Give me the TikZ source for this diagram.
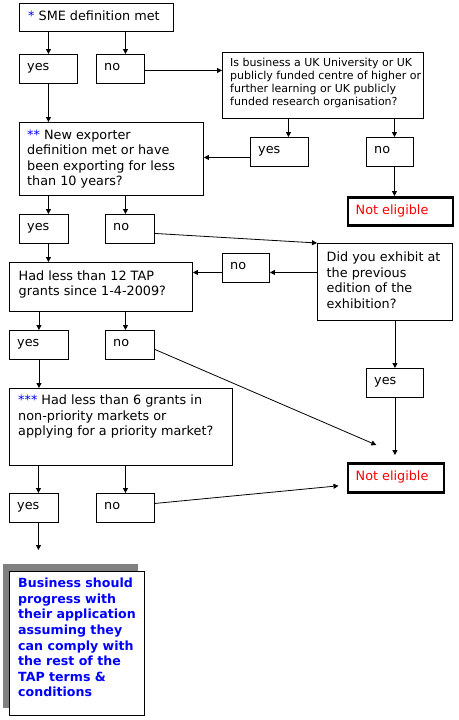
\documentclass[tikz,border=0pt]{standalone}
\usepackage{fontspec}
\setmainfont{DejaVu Sans}
\usetikzlibrary{arrows.meta,shadows}
\definecolor{tapblue}{RGB}{0,0,255}
\definecolor{tapred}{RGB}{255,0,0}
\definecolor{tapgray}{RGB}{128,128,128}

\tikzset{
  box/.style={draw, line width=0.9pt, anchor=north west, inner sep=0pt, fill=white},
  stopbox/.style={draw, line width=2.6pt, anchor=north west, inner sep=0pt, fill=white},
  txt/.style={anchor=north west, align=left, inner xsep=8pt, inner ysep=7.5pt,
    font=\fontsize{12.8}{15.5}\selectfont},
  yn/.style={txt, inner ysep=9pt},
  arr/.style={line width=0.8pt, -{Triangle[length=5pt,width=5pt]}},
}

\begin{document}
\begin{tikzpicture}[x=1pt, y=-1pt]
\useasboundingbox[fill=white] (0,0) rectangle (458,720);

% questions
\node[box, minimum width=154, minimum height=28,
  label={[txt, inner xsep=9pt]north west:{\textcolor{tapblue}{*} SME definition met}}] (sme) at (19,3) {};
\node[box, minimum width=201, minimum height=66,
  label={[txt, inner ysep=6pt, font=\fontsize{11}{13}\selectfont]north west:{Is business a UK University or UK\\publicly funded centre of higher or\\further learning or UK publicly\\funded research organisation?}}] (quni) at (222,52) {};
\node[box, minimum width=184, minimum height=73,
  label={[txt]north west:{\textcolor{tapblue}{**} New exporter\\definition met or have\\been exporting for less\\than 10 years?}}] (nexp) at (19,122) {};
\node[box, minimum width=135, minimum height=77,
  label={[txt, inner xsep=9.5pt, inner ysep=9pt]north west:{Did you exhibit at\\the previous\\edition of the\\exhibition?}}] (exh) at (317,243) {};
\node[box, minimum width=183, minimum height=49,
  label={[txt, inner xsep=9.5pt, inner ysep=8.5pt]north west:{Had less than 12 TAP\\grants since 1-4-2009?}}] (had12) at (9,262) {};
\node[box, minimum width=223, minimum height=77,
  label={[txt, inner xsep=9pt, inner ysep=7pt]north west:{\textcolor{tapblue}{***} Had less than 6 grants in\\non-priority markets or\\applying for a priority market?}}] (had6) at (9,388) {};

% answers
\node[box, minimum width=58, minimum height=29, label={[yn]north west:yes}] (yes1) at (19,54) {};
\node[box, minimum width=48, minimum height=29, label={[yn]north west:no}] (no1) at (96,54) {};
\node[box, minimum width=58, minimum height=29, label={[yn]north west:yes}] (yes2) at (250,137) {};
\node[box, minimum width=47, minimum height=29, label={[yn]north west:no}] (no2) at (366,137) {};
\node[box, minimum width=49, minimum height=29, label={[yn]north west:yes}] (yes3) at (19,214) {};
\node[box, minimum width=49, minimum height=29, label={[yn]north west:no}] (no3) at (105,214) {};
\node[box, minimum width=47, minimum height=29, label={[yn]north west:no}] (no5) at (222,253) {};
\node[box, minimum width=59, minimum height=29, label={[yn]north west:yes}] (yes4) at (9,330) {};
\node[box, minimum width=49, minimum height=29, label={[yn]north west:no}] (no4) at (105,330) {};
\node[box, minimum width=57, minimum height=29, label={[yn]north west:yes}] (yes5) at (366,368) {};
\node[box, minimum width=49, minimum height=29, label={[yn]north west:yes}] (yes6) at (9,493) {};
\node[box, minimum width=58, minimum height=29, label={[yn]north west:no}] (no6) at (96,493) {};

% outcomes
\node[stopbox, minimum width=105, minimum height=28,
  label={[txt, inner xsep=9pt, inner ysep=8.5pt, text=tapred]north west:Not eligible}] (ne1) at (346.5,196) {};
\node[stopbox, minimum width=96, minimum height=29,
  label={[txt, inner xsep=9pt, inner ysep=8.5pt, text=tapred]north west:Not eligible}] (ne2) at (346.5,462) {};
\node[box, minimum width=135, minimum height=144,
  drop shadow={shadow xshift=-6pt, shadow yshift=7pt, fill=tapgray, opacity=1},
  label={[txt, inner xsep=9pt, inner ysep=7pt, text=tapblue,
    font=\fontsize{12.6}{15.6}\selectfont\bfseries]north west:{Business should\\progress with\\their application\\assuming they\\can comply with\\the rest of the\\TAP terms \&\\conditions}}] (final) at (9,571) {};

% connectors
\draw[arr] (sme.south -| yes1.north) -- (yes1.north);
\draw[arr] ([xshift=5pt]sme.south -| no1.north) -- ([xshift=5pt]no1.north);
\draw[arr] ([yshift=-1.5pt]no1.east) -- ([yshift=-1.5pt]no1.east -| quni.west);
\draw[arr] (yes1.south) -- (yes1.south |- nexp.north);
\draw[arr] ([xshift=9pt]quni.south -| yes2.north) -- ([xshift=9pt]yes2.north);
\draw[arr] ([xshift=4.5pt]quni.south -| no2.north) -- ([xshift=4.5pt]no2.north);
\draw[arr] ([xshift=4.5pt]no2.south) -- ([xshift=4.5pt]no2.south |- ne1.north);
\draw[arr] ([yshift=-5.5pt]yes2.west) -- ([yshift=-5.5pt]yes2.west -| nexp.east);
\draw[arr] ([xshift=4.5pt]nexp.south -| yes3.north) -- ([xshift=4.5pt]yes3.north);
\draw[arr] ([xshift=-4.5pt]nexp.south -| no3.north) -- ([xshift=-4.5pt]no3.north);
\draw[arr] ([yshift=-4.5pt]no3.east) -- (exh.north west);
\draw[arr] ([xshift=4.5pt]yes3.south) -- ([xshift=4.5pt]yes3.south |- had12.north);
\draw[arr] ([yshift=-4.5pt]no5.east -| exh.west) -- ([yshift=-4.5pt]no5.east);
\draw[arr] ([yshift=-4.5pt]no5.west) -- ([yshift=-4.5pt]no5.west -| had12.east);
\draw[arr] (had12.south -| yes4.north) -- (yes4.north);
\draw[arr] ([xshift=-4.5pt]had12.south -| no4.north) -- ([xshift=-4.5pt]no4.north);
\draw[arr] (exh.south -| yes5.north) -- (yes5.north);
\draw[arr, shorten >=7pt] (yes5.south) -- (yes5.south |- ne2.north);
\draw[arr] ([yshift=-4.5pt]no4.east) -- ([shift={(-19.5pt,17pt)}]ne2.north);
\draw[arr] (yes4.south) -- (yes4.south |- had6.north);
\draw[arr] ([xshift=4.5pt]had6.south -| yes6.north) -- ([xshift=4.5pt]yes6.north);
\draw[arr] (had6.south -| no6.north) -- (no6.north);
\draw[arr] ([yshift=4.5pt]no6.east) -- ([shift={(-8pt,-8pt)}]ne2.west);
\draw[arr, shorten >=21pt] ([xshift=4.5pt]yes6.south) -- ([xshift=4.5pt]yes6.south |- final.north);
\end{tikzpicture}
\end{document}
